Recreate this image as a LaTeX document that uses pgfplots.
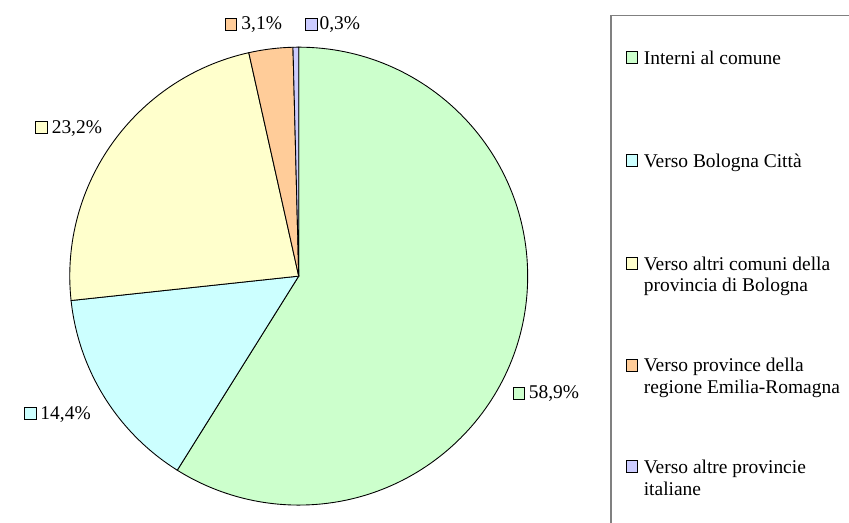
\documentclass[border=0pt]{standalone}
\usepackage{fontspec}
\setmainfont{Liberation Serif}
\usepackage{pgfplots}
\usepackage{pgfplotstable}
\pgfplotsset{compat=1.18}
\definecolor{cGreen}{HTML}{CCFFCC}
\definecolor{cCyan}{HTML}{CCFFFF}
\definecolor{cYellow}{HTML}{FFFFCC}
\definecolor{cOrange}{HTML}{FFCC99}
\definecolor{cPurple}{HTML}{CCCCFF}
\definecolor{cFrame}{HTML}{808080}
\pgfplotstableread[col sep=comma]{
name,value
Interni,58.9
Bologna,14.4
Altri,23.2
Province,3.1
Italiane,0.3
}\piedata
\begin{document}
\pgfplotstablegetelem{0}{value}\of\piedata\let\vA\pgfplotsretval
\pgfplotstablegetelem{1}{value}\of\piedata\let\vB\pgfplotsretval
\pgfplotstablegetelem{2}{value}\of\piedata\let\vC\pgfplotsretval
\pgfplotstablegetelem{3}{value}\of\piedata\let\vD\pgfplotsretval
\pgfplotstablegetelem{4}{value}\of\piedata\let\vE\pgfplotsretval
\pgfmathsetmacro\aA{90}
\pgfmathsetmacro\aB{\aA-3.6*\vA}
\pgfmathsetmacro\aC{\aB-3.6*\vB}
\pgfmathsetmacro\aD{\aC-3.6*\vC}
\pgfmathsetmacro\aE{\aD-3.6*\vD}
\pgfmathsetmacro\aF{-270}
\begin{tikzpicture}[lbl/.style={anchor=base west, inner sep=0pt, font=\fontsize{19.8}{22}\selectfont}]
\begin{axis}[hide axis, ticks=none, scale only axis, width=849pt, height=532pt,
  xmin=0, xmax=849, ymin=0, ymax=532, clip=false, anchor=south west, at={(0,0)}]
% pie slices
\filldraw[fill=cGreen, draw=black, line width=0.9pt] (axis cs:289,251) -- ++(\aA:233pt) arc[start angle=\aA, end angle=\aB, radius=233pt] -- cycle;
\filldraw[fill=cCyan, draw=black, line width=0.9pt] (axis cs:289,251) -- ++(\aB:233pt) arc[start angle=\aB, end angle=\aC, radius=233pt] -- cycle;
\filldraw[fill=cYellow, draw=black, line width=0.9pt] (axis cs:289,251) -- ++(\aC:233pt) arc[start angle=\aC, end angle=\aD, radius=233pt] -- cycle;
\filldraw[fill=cOrange, draw=black, line width=0.9pt] (axis cs:289,251) -- ++(\aD:233pt) arc[start angle=\aD, end angle=\aE, radius=233pt] -- cycle;
\filldraw[fill=cPurple, draw=black, line width=0.9pt] (axis cs:289,251) -- ++(\aE:233pt) arc[start angle=\aE, end angle=\aF, radius=233pt] -- cycle;
% data labels
\filldraw[fill=cOrange, draw=black, line width=0.8pt] (axis cs:214,501.5) rectangle (axis cs:226,513.5);
\node[lbl] at (axis cs:230.5,501.5) {3,1\%};
\filldraw[fill=cPurple, draw=black, line width=0.8pt] (axis cs:296,501.5) rectangle (axis cs:308,513.5);
\node[lbl] at (axis cs:310,501.5) {0,3\%};
\filldraw[fill=cYellow, draw=black, line width=0.8pt] (axis cs:21,396) rectangle (axis cs:33,408);
\node[lbl] at (axis cs:37.5,396) {23,2\%};
\filldraw[fill=cCyan, draw=black, line width=0.8pt] (axis cs:10,105) rectangle (axis cs:22,117);
\node[lbl] at (axis cs:26,105) {14,4\%};
\filldraw[fill=cGreen, draw=black, line width=0.8pt] (axis cs:507,126) rectangle (axis cs:519,138);
\node[lbl] at (axis cs:523,126) {58,9\%};
% legend frame
\draw[cFrame, line width=1.5pt] (axis cs:607,-5) -- (axis cs:607,516) -- (axis cs:855,516);
% legend entries
\filldraw[fill=cGreen, draw=black, line width=0.8pt] (axis cs:622,467.5) rectangle (axis cs:634,479.5);
\node[lbl] at (axis cs:640,466.5) {Interni al comune};
\filldraw[fill=cCyan, draw=black, line width=0.8pt] (axis cs:622,363) rectangle (axis cs:634,375);
\node[lbl] at (axis cs:640,362) {Verso Bologna Città};
\filldraw[fill=cYellow, draw=black, line width=0.8pt] (axis cs:622,258) rectangle (axis cs:634,270);
\node[lbl] at (axis cs:640,257) {Verso altri comuni della};
\node[lbl] at (axis cs:640,235) {provincia di Bologna};
\filldraw[fill=cOrange, draw=black, line width=0.8pt] (axis cs:622,154.5) rectangle (axis cs:634,166.5);
\node[lbl] at (axis cs:640,153.5) {Verso province della};
\node[lbl] at (axis cs:640,131.5) {regione Emilia-Romagna};
\filldraw[fill=cPurple, draw=black, line width=0.8pt] (axis cs:622,51) rectangle (axis cs:634,63);
\node[lbl] at (axis cs:640,50) {Verso altre provincie};
\node[lbl] at (axis cs:640,28) {italiane};
\end{axis}
\pgfresetboundingbox
\path (0,0) rectangle (849pt,532pt);
\end{tikzpicture}
\end{document}
